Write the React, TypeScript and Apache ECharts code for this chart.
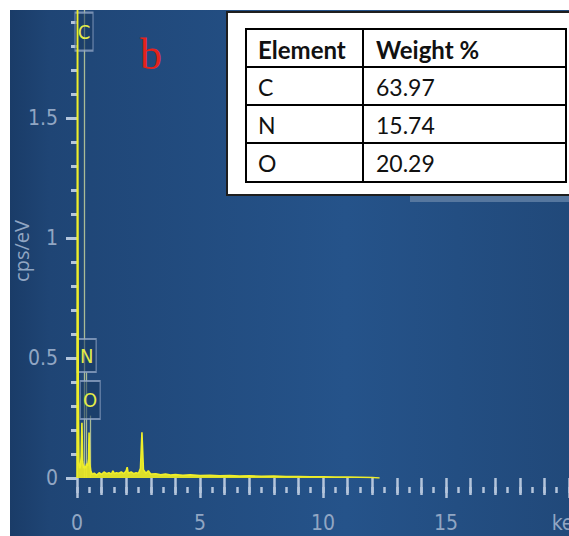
import React, { useEffect, useRef } from "react";
import * as echarts from "echarts";

// Spectrum (keV, cps/eV)
const energy = [0.0, 0.02, 0.05, 0.08, 0.11, 0.14, 0.17, 0.2, 0.23, 0.27, 0.31, 0.35, 0.39, 0.43, 0.47, 0.49, 0.52, 0.56, 0.62, 0.7, 0.8, 0.9, 1.0, 1.1, 1.2, 1.3, 1.4, 1.46, 1.52, 1.6, 1.7, 1.8, 1.9, 2.0, 2.04, 2.08, 2.2, 2.3, 2.4, 2.5, 2.58, 2.64, 2.7, 2.8, 2.9, 3.0, 3.2, 3.4, 3.6, 3.8, 4.0, 4.3, 4.6, 5.0, 5.4, 5.8, 6.2, 6.6, 7.0, 7.5, 8.0, 8.5, 9.0, 9.5, 10.0, 10.5, 11.0, 11.5, 12.0, 12.3];
const counts = [0.0, 2.3, 0.35, 0.06, 0.04, 0.05, 0.09, 0.23, 0.07, 0.04, 0.05, 0.04, 0.06, 0.05, 0.08, 0.19, 0.06, 0.03, 0.015, 0.02, 0.012, 0.022, 0.015, 0.025, 0.018, 0.022, 0.016, 0.03, 0.018, 0.022, 0.02, 0.025, 0.018, 0.03, 0.045, 0.02, 0.025, 0.018, 0.022, 0.02, 0.04, 0.19, 0.035, 0.02, 0.03, 0.016, 0.018, 0.013, 0.016, 0.012, 0.014, 0.011, 0.013, 0.01, 0.011, 0.009, 0.01, 0.008, 0.009, 0.007, 0.008, 0.006, 0.006, 0.005, 0.005, 0.004, 0.004, 0.003, 0.002, 0.0];

// Element markers
const markerNames = ["C", "N", "O"];
const markerEnergy = [0.285, 0.392, 0.535];
const markerBoxValue = [1.86, 0.51, 0.325];
const markerLineTop = [2.0, 0.44, 0.26];

// x tick labels (every 5 keV)
const xTickLabels = ["0", "5", "10", "15", "keV"];

// Table
const tableHeader = ["Element", "Weight %"];
const tableElements = ["C", "N", "O"];
const tableWeights = ["63.97", "15.74", "20.29"];

const NARROW = "'Liberation Sans Narrow', 'DejaVu Sans Condensed', Roboto, sans-serif";

export default function App() {
  const ref = useRef<HTMLDivElement>(null);

  useEffect(() => {
    if (!ref.current) return;
    const chart = echarts.init(ref.current, undefined, { renderer: "svg" });

    const data = energy.map((e, i) => [e, counts[i]]);
    const tickColor = "#b4c5db";
    const labelColor = "#91a6c3";
    const boxSizes: number[][] = [[18, 38], [19, 33], [20, 38]];

    const tableGraphics: any[] = [];
    tableGraphics.push({
      type: "rect", z: 100, silent: true,
      shape: { x: 227, y: 12, width: 350, height: 183 },
      style: { fill: "#ffffff", stroke: "#1e1e1e", lineWidth: 2 },
    });
    tableGraphics.push({
      type: "rect", z: 101, silent: true,
      shape: { x: 246, y: 29, width: 320, height: 153 },
      style: { fill: "none", stroke: "#000000", lineWidth: 2 },
    });
    tableGraphics.push({
      type: "line", z: 101, silent: true,
      shape: { x1: 363, y1: 29, x2: 363, y2: 182 },
      style: { stroke: "#000000", lineWidth: 2 },
    });
    [67, 105, 143].forEach((yy) => {
      tableGraphics.push({
        type: "line", z: 101, silent: true,
        shape: { x1: 246, y1: yy, x2: 566, y2: yy },
        style: { stroke: "#000000", lineWidth: 2 },
      });
    });
    tableGraphics.push({
      type: "text", z: 102, silent: true,
      style: { text: tableHeader[0], x: 258, y: 49, fill: "#111", font: "bold 24px Lato", textVerticalAlign: "middle" },
    });
    tableGraphics.push({
      type: "text", z: 102, silent: true,
      style: { text: tableHeader[1], x: 376, y: 49, fill: "#111", font: "bold 24px Lato", textVerticalAlign: "middle" },
    });
    tableElements.forEach((el, i) => {
      const cy = 87 + i * 38;
      tableGraphics.push({
        type: "text", z: 102, silent: true,
        style: { text: el, x: 258, y: cy, fill: "#111", font: "23px Lato", textVerticalAlign: "middle" },
      });
      tableGraphics.push({
        type: "text", z: 102, silent: true,
        style: { text: tableWeights[i], x: 376, y: cy, fill: "#111", font: "23px Lato", textVerticalAlign: "middle" },
      });
    });

    const option: any = {
      animation: false,
      backgroundColor: "#ffffff",
      grid: { left: 77, right: 0, top: -2, bottom: 58, containLabel: false, outerBoundsMode: "none" },
      xAxis: [
        {
          type: "value", min: 0, max: 20, interval: 5, offset: 6, position: "bottom",
          axisLine: { show: false },
          axisTick: { show: true, length: 20, lineStyle: { color: tickColor, width: 2.5 } },
          minorTick: { show: true, splitNumber: 5, length: 17, lineStyle: { color: tickColor, width: 2.5 } },
          splitLine: { show: false },
          axisLabel: {
            show: true, margin: 28, color: labelColor, fontSize: 21, fontFamily: NARROW,
            showMaxLabel: true, showMinLabel: true, hideOverlap: false,
            formatter: (v: number) => xTickLabels[Math.round(v / 5)] ?? "",
          },
        },
        {
          type: "value", min: 0, max: 20, interval: 0.5, offset: 9, position: "bottom",
          axisLine: { show: false },
          axisTick: { show: true, length: 6, lineStyle: { color: tickColor, width: 2.5 } },
          axisLabel: { show: false },
          splitLine: { show: false },
        },
      ],
      yAxis: {
        type: "value", min: 0, max: 2, interval: 0.5, offset: 4,
        name: "cps/eV", nameLocation: "middle", nameGap: 42, nameMoveOverlap: false,
        nameTextStyle: { color: labelColor, fontSize: 20, fontFamily: "'Open Sans', sans-serif", padding: [0, 26, 0, 0] },
        axisLine: { show: false },
        axisTick: { show: true, length: 11, lineStyle: { color: tickColor, width: 3 } },
        minorTick: { show: true, splitNumber: 5, length: 6, lineStyle: { color: tickColor, width: 3 } },
        splitLine: { show: false },
        axisLabel: { margin: 15, color: labelColor, fontSize: 21, fontFamily: NARROW, showMaxLabel: false },
      },
      series: [
        {
          type: "line",
          data,
          xAxisIndex: 0,
          yAxisIndex: 0,
          showSymbol: false,
          symbol: "none",
          z: 5,
          lineStyle: { color: "#eeee2a", width: 1.6 },
          areaStyle: { color: "#e8e826", opacity: 0.95 },
          markLine: {
            silent: true,
            symbol: "none",
            label: { show: false },
            lineStyle: { color: "rgba(215,225,160,0.75)", width: 1.3, type: "solid" },
            data: markerNames.map((n, i) => [
              { coord: [markerEnergy[i], 0] },
              { coord: [markerEnergy[i], markerLineTop[i]] },
            ]),
          },
          markPoint: {
            silent: true,
            symbol: "rect",
            itemStyle: { color: "rgba(24,56,96,0.55)", borderColor: "rgba(150,170,200,0.75)", borderWidth: 1.5 },
            label: { show: true, formatter: "{b}", color: "#e4ec48", fontSize: 20, fontFamily: NARROW },
            data: markerNames.map((n, i) => ({
              name: n,
              coord: [markerEnergy[i], markerBoxValue[i]],
              symbolSize: boxSizes[i],
            })),
          },
        },
      ],
      graphic: [
        {
          type: "rect", z: -10, silent: true,
          shape: { x: 10, y: 10, width: 559, height: 526 },
          style: {
            fill: new echarts.graphic.LinearGradient(0, 0, 1, 0, [
              { offset: 0, color: "#1a3c68" },
              { offset: 0.07, color: "#1f4575" },
              { offset: 0.6, color: "#25538a" },
              { offset: 1, color: "#21497a" },
            ]),
          },
        },
        {
          type: "rect", z: 99, silent: true,
          shape: { x: 0, y: 0, width: 569, height: 10 },
          style: { fill: "#ffffff" },
        },
        {
          type: "rect", z: 99, silent: true,
          shape: { x: 0, y: 0, width: 10, height: 536 },
          style: { fill: "#ffffff" },
        },
        {
          type: "rect", z: 99, silent: true,
          shape: { x: 410, y: 196, width: 159, height: 6 },
          style: { fill: "#56779f" },
        },
        {
          type: "text", z: 99, silent: true,
          style: { text: "b", x: 140, y: 54, fill: "#e3231c", font: "44px 'Liberation Serif'", textVerticalAlign: "middle" },
        },
        ...tableGraphics,
      ],
    };

    chart.setOption(option);
    return () => chart.dispose();
  }, []);

  return (
    <div
      ref={ref}
      style={{ position: "absolute", left: 0, top: 0, width: 569, height: 536 }}
    />
  );
}
